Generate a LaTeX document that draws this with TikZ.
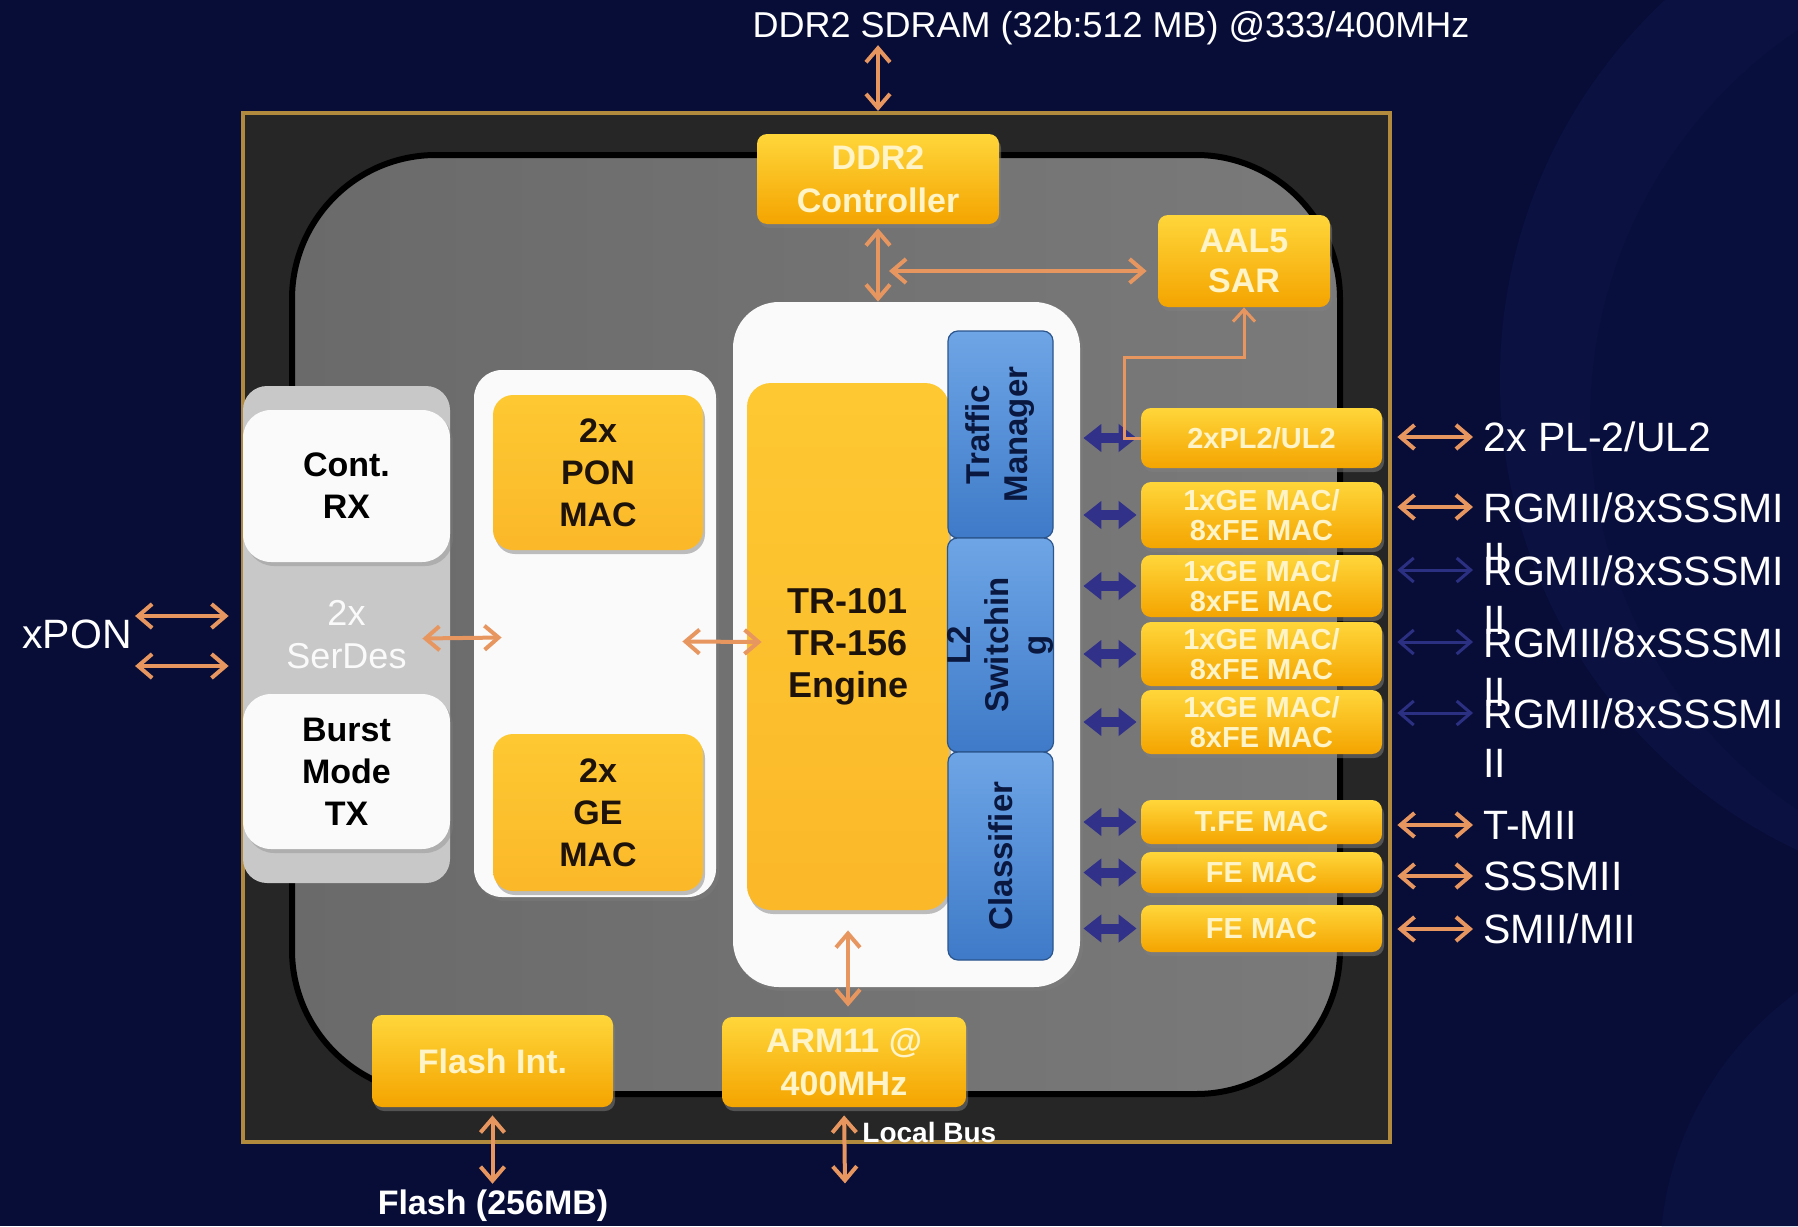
\documentclass[tikz,border=0pt]{standalone}
\usepackage{fontspec}
\setmainfont{Liberation Sans}
\usetikzlibrary{arrows.meta,positioning,calc,shadows}
\definecolor{bgnavy}{RGB}{8,13,56}
\definecolor{bgswirl}{RGB}{30,48,120}
\definecolor{framegold}{RGB}{178,138,62}
\definecolor{framefill}{RGB}{38,38,38}
\definecolor{coregray}{RGB}{106,106,106}
\definecolor{coregraylt}{RGB}{122,122,122}
\definecolor{chipyel}{RGB}{255,214,58}
\definecolor{chiporg}{RGB}{244,164,0}
\definecolor{chipflat}{RGB}{251,184,41}
\definecolor{chipcream}{RGB}{255,244,200}
\definecolor{panelwhite}{RGB}{250,250,250}
\definecolor{serdesgray}{RGB}{200,200,200}
\definecolor{tmlight}{RGB}{110,165,230}
\definecolor{tmdark}{RGB}{62,122,200}
\definecolor{tmtext}{RGB}{10,24,64}
\definecolor{linkorg}{RGB}{232,150,96}
\definecolor{linkblue}{RGB}{44,48,130}
\definecolor{fatblue}{RGB}{49,49,138}

\begin{document}
\begin{tikzpicture}[x=0.5pt, y=-0.5pt,
  chip/.style={rounded corners=5pt, top color=chipyel, bottom color=chiporg,
    text=chipcream, font=\bfseries\fontsize{17}{21.5}\selectfont, align=center,
    inner sep=0pt, drop shadow={opacity=0.5, shadow xshift=1pt, shadow yshift=-2pt}},
  mac/.style={chip, minimum width=120.5pt, font=\bfseries\fontsize{14.5}{15}\selectfont},
  ponchip/.style={chip, rounded corners=10pt, top color=chipyel!55!chipflat,
    bottom color=chipflat, text=black!85!brown,
    font=\bfseries\fontsize{17}{21}\selectfont},
  panel/.style={fill=panelwhite, inner sep=0pt,
    drop shadow={opacity=0.35, shadow xshift=1.5pt, shadow yshift=-2pt}},
  whitebox/.style={panel, rounded corners=14pt, minimum width=103.5pt, text=black,
    font=\bfseries\fontsize{17}{21}\selectfont, align=center},
  tmbox/.style={rotate=90, rounded corners=5pt, top color=tmlight, bottom color=tmdark,
    draw=tmdark!70!black, line width=0.6pt, minimum height=52.5pt, inner sep=0pt,
    text=tmtext, font=\bfseries\fontsize{16.5}{19}\selectfont, align=center},
  lbl/.style={text=white, font=\fontsize{20.5}{24.5}\selectfont, inner sep=0pt},
  oarrow/.style={draw=linkorg, line width=2pt,
    {Straight Barb[length=7pt,width=12pt]}-{Straight Barb[length=7pt,width=12pt]}},
  barrow/.style={oarrow, draw=linkblue, line width=1.5pt},
  fatarrow/.style={draw=fatblue, line width=5pt,
    {Triangle[length=9pt,width=13.5pt]}-{Triangle[length=9pt,width=13.5pt]}},
  oline/.style={draw=linkorg, line width=1.5pt, -{Straight Barb[length=6pt,width=11pt]}}
]
\useasboundingbox (0,0) rectangle (1798,1226);
\fill[bgnavy] (0,0) rectangle (1798,1226);
% background swirl
\begin{scope}
  \clip (0,0) rectangle (1798,1226);
  \fill[bgswirl, opacity=0.16] (2020,380) circle (520);
  \fill[bgnavy, opacity=0.5] (2060,420) circle (470);
  \fill[bgswirl, opacity=0.12] (1990,1260) circle (330);
\end{scope}

% chip frame and core
\node[draw=framegold, line width=2pt, fill=framefill, inner sep=0pt,
  minimum width=573.5pt, minimum height=514.5pt] (chip) at (816.5,627.5) {};
\node[draw=black, line width=3pt, left color=coregray, right color=coregraylt,
  rounded corners=72pt, inner sep=0pt, minimum width=524pt,
  minimum height=469.5pt] (core) at (816,624.5) {};

% memory side
\node[lbl, font=\fontsize{18}{20}\selectfont] (sdram) at (1111,28)
  {DDR2 SDRAM (32b:512 MB) @333/400MHz};
\node[chip, minimum width=121pt, minimum height=45pt] (ddr) at (878,179)
  {DDR2\\Controller};
\node[chip, minimum width=86pt, minimum height=46pt,
  font=\bfseries\fontsize{17}{20}\selectfont] (aal) at (1244,261) {AAL5\\SAR};

% engine
\node[panel, rounded corners=23pt, minimum width=173.5pt, minimum height=342.5pt]
  (engpanel) at (906.5,644.5) {};
\node[ponchip, rounded corners=12pt, minimum width=101pt, minimum height=263.5pt,
  font=\bfseries\fontsize{18}{21}\selectfont] (tr) at (848,646.5)
  {TR-101\\TR-156\\Engine};
\node[tmbox, minimum width=103.5pt] (tm) at (1000.5,434.5) {Traffic\\Manager};
\node[tmbox, minimum width=107pt] (l2) at (1000.5,645) {L2\\Switchin\\g};
\node[tmbox, minimum width=104pt] (cls) at (1000.5,856) {Classifier};

% serdes and pon
\node[fill=serdesgray, rounded corners=12pt, minimum width=103.5pt,
  minimum height=248.5pt, inner sep=0pt, text=white!96!gray,
  font=\fontsize{18}{21.5}\selectfont, align=center] (serdes) at (346.5,634.5)
  {2x\\SerDes};
\node[whitebox, minimum height=76pt] (rx) at (346.5,486) {Cont.\\RX};
\node[whitebox, minimum height=77.5pt] (tx) at (346.5,771.5) {Burst\\Mode\\TX};
\node[panel, rounded corners=14pt, minimum width=121pt, minimum height=263.5pt]
  (ponpanel) at (595,633.5) {};
\node[ponchip, minimum width=105pt, minimum height=77.5pt] (ponmac) at (598,472.5)
  {2x\\PON\\MAC};
\node[ponchip, minimum width=105pt, minimum height=78.5pt] (gemac) at (598,812.5)
  {2x\\GE\\MAC};

% bottom blocks
\node[chip, minimum width=120.5pt, minimum height=46pt] (flashint) at (492.5,1061)
  {Flash Int.};
\node[chip, minimum width=122pt, minimum height=45pt] (arm) at (844,1062)
  {ARM11 @\\400MHz};

% MACs
\node[mac, minimum height=30pt] (pl2) at (1261.5,438) {2xPL2/UL2};
\foreach \n/\y/\h in {ge1/515/33, ge2/586/31, ge3/654/32, ge4/722/32}
  \node[mac, minimum height=\h pt] (\n) at (1261.5,\y) {1xGE MAC/\\8xFE MAC};
\node[mac, minimum height=22pt] (tfe) at (1261.5,822) {T.FE MAC};
\node[mac, minimum height=20.5pt] (fe1) at (1261.5,872.5) {FE MAC};
\node[mac, minimum height=23.5pt] (fe2) at (1261.5,928.5) {FE MAC};

% outside labels
\node[lbl] (xpon) at (77,634) {xPON};
\node[lbl, anchor=west] (pl2lab) at (1483,437) {2x PL-2/UL2};
\foreach \n/\y in {rg1/507, rg2/570, rg3/642, rg4/713} {
  \node[lbl, anchor=north west, align=left] (\n) at (1483,\y-15) {RGMII/8xSSSMI\\II};
  \path (\n.north west) ++(0,15) coordinate (pin\n);
}
\node[lbl, anchor=west] (tmii) at (1483,825) {T-MII};
\node[lbl, anchor=west] (sssmii) at (1483,876) {SSSMII};
\node[lbl, anchor=west] (smii) at (1483,929) {SMII/MII};
\node[lbl, font=\bfseries\fontsize{17}{20}\selectfont] (flashmem) at (493,1206)
  {Flash (256MB)};
\node[lbl, anchor=west, font=\bfseries\fontsize{14}{16}\selectfont] (lbuslab)
  at (862,1132) {Local Bus};
\coordinate (lbus) at ($(arm.south)+(1,76)$);
\coordinate (ddrtap) at ($(ddr.south |- aal.west)+(0,10)$);
\coordinate (xponhi) at ($(xpon.east)+(3,-18)$);
\coordinate (xponlo) at ($(xpon.east)+(3,32)$);

% connectors
\draw[oarrow] (sdram.south -| ddr.north) -- (ddr.north |- chip.north);
\draw[oarrow, shorten <=2pt] (ddr.south) -- (ddr.south |- engpanel.north);
\draw[oarrow, shorten <=5.5pt, shorten >=5.5pt] (ddrtap) -- (ddrtap -| aal.west);
\foreach \n in {pl2,ge1,ge2,ge3,ge4,tfe,fe1,fe2}
  \draw[fatarrow, shorten <=1.5pt, shorten >=2pt] (engpanel.east |- \n.west) -- (\n.west);
\draw[oline] (pl2.west) -- ++(-16,0) |- ($(aal.south)+(0,50)$) -- (aal.south);
\draw[oarrow, shorten <=7.5pt, shorten >=5pt] (pl2.east |- pl2lab.west) -- (pl2lab.west);
\draw[oarrow, shorten <=7.5pt, shorten >=5pt] (ge1.east |- pinrg1) -- (pinrg1);
\foreach \m/\n in {ge2/rg2, ge3/rg3, ge4/rg4}
  \draw[barrow, shorten <=7.5pt, shorten >=5pt] (\m.east |- pin\n) -- (pin\n);
\foreach \m/\n in {tfe/tmii, fe1/sssmii, fe2/smii}
  \draw[oarrow, shorten <=7.5pt, shorten >=5pt] (\m.east |- \n.west) -- (\n.west);
\draw[oarrow, shorten >=7pt] (xponhi) -- (xponhi -| serdes.west);
\draw[oarrow, shorten >=7pt] (xponlo) -- (xponlo -| serdes.west);
\draw[oarrow] ($(serdes.east)+(-28,4)$) -- ($(ponpanel.west)+(28,4)$);
\draw[oarrow] ($(ponpanel.east)+(-34,8)$) -- ($(tr.west)+(15,-4.5)$);
\draw[oarrow, shorten <=10pt, shorten >=5pt] (tr.south) -- (tr.south |- arm.north);
\draw[oarrow, shorten <=4pt, shorten >=3pt] (flashint.south) -- (flashint.south |- flashmem.north);
\draw[oarrow, shorten <=4pt] (arm.south) -- (lbus);
\end{tikzpicture}
\end{document}
